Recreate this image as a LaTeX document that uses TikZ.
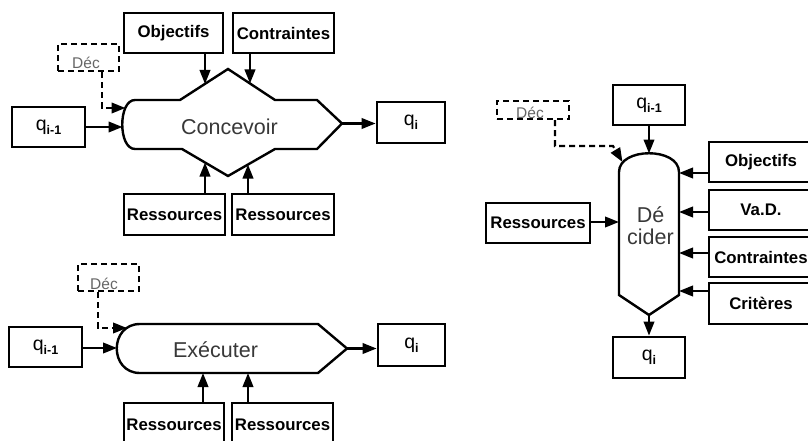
\documentclass[tikz,border=0pt]{standalone}
\usepackage{fontspec}
\setmainfont{Liberation Sans}
\usetikzlibrary{arrows.meta}
% q with a bold subscript index
\newcommand\qlab[1]{{\fontsize{19.5}{20}\selectfont\mdseries q}\raisebox{-0.45ex}{\fontsize{12.5}{12}\selectfont\bfseries #1}}
\begin{document}
\begin{tikzpicture}[x=1pt,y=-1pt,
  box/.style={draw,line width=2.8pt,inner sep=0pt,
    font=\fontsize{16.8}{18}\selectfont\bfseries},
  decbox/.style={draw,dash pattern=on 6pt off 4pt,line width=2.2pt,inner sep=0pt},
  dectext/.style={text=black!60,font=\fontsize{15.5}{16}\selectfont,inner sep=0pt,anchor=base},
  proc/.style={line width=2.4pt,line join=miter},
  ptext/.style={text=black!78,font=\fontsize{21.5}{24}\selectfont,inner sep=0pt,anchor=base},
  arr/.style={line width=2.2pt,-{Triangle[length=14pt,width=10.5pt]}},
  decarr/.style={arr,dash pattern=on 6pt off 4pt}]
\clip (0,0) rectangle (808,441);

%% ---------- Concevoir ----------
\node[box,minimum width=99pt,minimum height=40pt]  (objA) at (173.5,33) {Objectifs};
\node[box,minimum width=101pt,minimum height=40pt] (conA) at (283.5,33) {Contraintes};
\node[decbox,minimum width=61pt,minimum height=27pt] (decA) at (88.5,57.5) {};
\node[dectext] (decAt) at (86,69) {Déc};
\node[box,minimum width=73pt,minimum height=40pt] (qA1) at (48.5,127) {\qlab{i-1}};
\node[box,minimum width=68pt,minimum height=41pt] (qA2) at (411,122.5) {\qlab{i}};
\node[box,minimum width=101pt,minimum height=41pt] (resA1) at (174.5,214.5) {Ressources};
\node[box,minimum width=102pt,minimum height=41pt] (resA2) at (283,214.5) {Ressources};

\draw[proc] (135,100) -- (180,100) -- (228,69) -- (275,100) -- (317,100)
  -- (342,123.5) -- (317,149) -- (275,149) -- (228,176) -- (182,149) -- (135,149)
  .. controls (118,149) and (118,100) .. (135,100) -- cycle;
\node[ptext] (tA) at (229.5,135) {Concevoir};

\coordinate (cA1) at (205,84);
\coordinate (cA2) at (250,83.5);
\coordinate (cA3) at (205,162.5);
\coordinate (cA4) at (248,164.5);
\coordinate (cA5) at (122.5,127);
\coordinate (cA6) at (342,123.5);
\coordinate (eA)  at (125.5,108);
\draw[arr] (objA.south -| cA1) -- (cA1);
\draw[arr] (conA.south -| cA2) -- (cA2);
\draw[arr] (resA1.north -| cA3) -- (cA3);
\draw[arr] (resA2.north -| cA4) -- (cA4);
\draw[arr] (qA1.east |- cA5) -- (cA5);
\draw[arr] (cA6) -- (cA6 -| qA2.west);
\draw[decarr] ([xshift=13.5pt]decA.south) |- (eA);

%% ---------- Exécuter ----------
\node[decbox,minimum width=61pt,minimum height=27pt] (decB) at (108.5,277.5) {};
\node[dectext] (decBt) at (104,289) {Déc};
\node[box,minimum width=73pt,minimum height=40pt] (qB1) at (45.5,347) {\qlab{i-1}};
\node[box,minimum width=67pt,minimum height=42pt] (qB2) at (411.5,345) {\qlab{i}};
\node[box,minimum width=100pt,minimum height=44pt] (resB1) at (174,425) {Ressources};
\node[box,minimum width=101pt,minimum height=44pt] (resB2) at (282.5,425) {Ressources};

\draw[proc] (140,324) -- (318,324) -- (347,348.5) -- (318,373) -- (140,373)
  .. controls (109,373) and (109,324) .. (140,324) -- cycle;
\node[ptext] (tB) at (215.5,357) {Exécuter};

\coordinate (cB1) at (203,373);
\coordinate (cB2) at (248,373);
\coordinate (cB3) at (117,348);
\coordinate (cB4) at (347,348.5);
\coordinate (eB)  at (127,328);
\draw[arr] (resB1.north -| cB1) -- (cB1);
\draw[arr] (resB2.north -| cB2) -- (cB2);
\draw[arr] (qB1.east |- cB3) -- (cB3);
\draw[arr] (cB4) -- (cB4 -| qB2.west);
\draw[decarr] ([xshift=-10.5pt]decB.south) |- (eB);

%% ---------- Décider ----------
\node[decbox,minimum width=72pt,minimum height=18pt] (decC) at (533,110) {};
\node[dectext] (decCt) at (530,118) {Déc};
\node[box,minimum width=72pt,minimum height=40pt] (qC1) at (649,105) {\qlab{i-1}};
\node[box,minimum width=72pt,minimum height=41pt] (qC2) at (649,357.5) {\qlab{i}};
\node[box,minimum width=104pt,minimum height=40pt] (resC) at (538,223) {Ressources};
\node[box,minimum width=104pt,minimum height=40pt] (objC) at (761,162) {Objectifs};
\node[box,minimum width=104pt,minimum height=40pt] (vadC) at (761,210) {Va.D.};
\node[box,minimum width=104pt,minimum height=40pt] (conC) at (761,257) {Contraintes};
\node[box,minimum width=104pt,minimum height=41pt] (criC) at (761,303.5) {Critères};

\draw[proc] (619,295) -- (619,172) .. controls (619,147) and (679,147) .. (679,172)
  -- (679,295) -- (649,315) -- cycle;
\node[text=black!78,font=\fontsize{21.5}{22}\selectfont,inner sep=0pt,align=center]
  (tC) at (650.5,226) {Dé\\cider};

\coordinate (cC1) at (649,153.5);
\coordinate (cC2) at (649,315);
\coordinate (cC3) at (619,222);
\coordinate (cC4) at (679,173);
\coordinate (cC5) at (679,212);
\coordinate (cC6) at (679,253);
\coordinate (cC7) at (679,291);
\coordinate (bC)  at (613,146);
\coordinate (eC)  at (622.5,162);
\draw[arr] (qC1.south) -- (cC1);
\draw[arr] (cC2) -- (qC2.north);
\draw[arr] (resC.east |- cC3) -- (cC3);
\draw[arr] (objC.west |- cC4) -- (cC4);
\draw[arr] (vadC.west |- cC5) -- (cC5);
\draw[arr] (conC.west |- cC6) -- (cC6);
\draw[arr] (criC.west |- cC7) -- (cC7);
\draw[decarr] ([xshift=22pt]decC.south) |- (bC) -- (eC);
\end{tikzpicture}
\end{document}
